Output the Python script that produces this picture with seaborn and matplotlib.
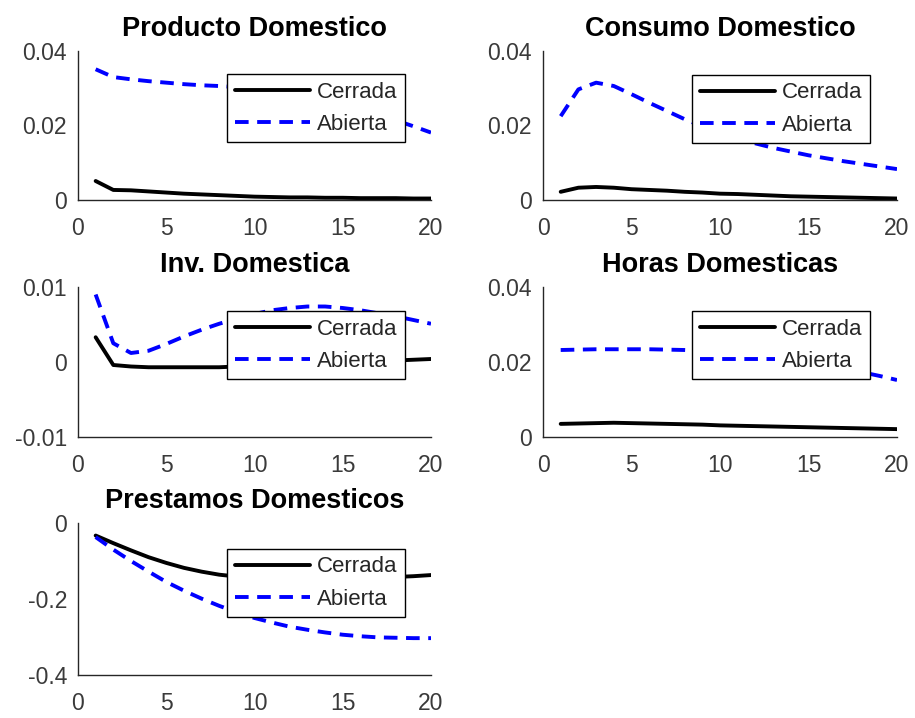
import numpy as np
import pandas as pd
import matplotlib
matplotlib.use("Agg")
import matplotlib.pyplot as plt
import seaborn as sns

periods = list(range(1, 21))
scenarios = ["Cerrada", "Abierta"]

producto_cerrada = [0.0051, 0.0027, 0.0026, 0.0023, 0.0020, 0.0017, 0.0015, 0.0013, 0.0011, 0.0009,
                    0.0008, 0.0007, 0.0007, 0.0006, 0.0006, 0.0005, 0.0005, 0.0005, 0.0004, 0.0004]
producto_abierta = [0.0351, 0.0330, 0.0324, 0.0319, 0.0315, 0.0311, 0.0308, 0.0306, 0.0303, 0.0299,
                    0.0293, 0.0285, 0.0275, 0.0264, 0.0252, 0.0240, 0.0227, 0.0214, 0.0198, 0.0181]

consumo_cerrada = [0.0022, 0.0033, 0.0035, 0.0033, 0.0029, 0.0027, 0.0025, 0.0022, 0.0020, 0.0017,
                   0.0016, 0.0014, 0.0012, 0.0010, 0.0009, 0.0008, 0.0007, 0.0006, 0.0005, 0.0004]
consumo_abierta = [0.0225, 0.0297, 0.0315, 0.0306, 0.0284, 0.0261, 0.0239, 0.0217, 0.0198, 0.0180,
                   0.0166, 0.0152, 0.0140, 0.0130, 0.0120, 0.0112, 0.0104, 0.0097, 0.0090, 0.0083]

inversion_cerrada = [0.0033, -0.0004, -0.0006, -0.0007, -0.0007, -0.0007, -0.0007, -0.0007, -0.0006, -0.0006,
                     -0.0005, -0.0004, -0.0003, -0.0002, -0.0001, 0.0000, 0.0001, 0.0002, 0.0003, 0.0004]
inversion_abierta = [0.0090, 0.0025, 0.0012, 0.0015, 0.0024, 0.0034, 0.0043, 0.0051, 0.0058, 0.0064,
                     0.0069, 0.0072, 0.0074, 0.0074, 0.0072, 0.0069, 0.0065, 0.0061, 0.0056, 0.0051]

horas_cerrada = [0.0035, 0.0036, 0.0037, 0.0038, 0.0037, 0.0036, 0.0035, 0.0034, 0.0033, 0.0031,
                 0.0030, 0.0029, 0.0028, 0.0027, 0.0026, 0.0025, 0.0024, 0.0023, 0.0022, 0.0021]
horas_abierta = [0.0232, 0.0233, 0.0234, 0.0234, 0.0234, 0.0234, 0.0233, 0.0232, 0.0230, 0.0227,
                 0.0223, 0.0218, 0.0212, 0.0205, 0.0198, 0.0190, 0.0182, 0.0173, 0.0163, 0.0152]

prestamos_cerrada = [-0.033, -0.053, -0.072, -0.090, -0.105, -0.118, -0.128, -0.136, -0.141, -0.144,
                     -0.146, -0.147, -0.147, -0.147, -0.146, -0.145, -0.144, -0.142, -0.140, -0.137]
prestamos_abierta = [-0.037, -0.070, -0.100, -0.128, -0.155, -0.178, -0.199, -0.218, -0.235, -0.250,
                     -0.262, -0.273, -0.281, -0.288, -0.294, -0.298, -0.301, -0.302, -0.303, -0.303]

titles = ["Producto Domestico", "Consumo Domestico", "Inv. Domestica",
          "Horas Domesticas", "Prestamos Domesticos"]
series = [(producto_cerrada, producto_abierta), (consumo_cerrada, consumo_abierta),
          (inversion_cerrada, inversion_abierta), (horas_cerrada, horas_abierta),
          (prestamos_cerrada, prestamos_abierta)]
y_limits = [(0, 0.04), (0, 0.04), (-0.01, 0.01), (0, 0.04), (-0.4, 0)]
y_ticks = [[0, 0.02, 0.04], [0, 0.02, 0.04], [-0.01, 0, 0.01], [0, 0.02, 0.04], [-0.4, -0.2, 0]]
y_ticklabels = [["0", "0.02", "0.04"], ["0", "0.02", "0.04"], ["-0.01", "0", "0.01"],
                ["0", "0.02", "0.04"], ["-0.4", "-0.2", "0"]]
x_ticks = [0, 5, 10, 15, 20]

sns.set_theme(style="white")
plt.rcParams["font.family"] = ["Liberation Sans", "DejaVu Sans"]

W, H = 915, 718
fig = plt.figure(figsize=(W / 100, H / 100), dpi=100)

# axes boxes in pixels: left, right, top, bottom
boxes = [(78, 431, 51, 200), (543, 897, 51, 200),
         (78, 431, 287, 437), (543, 897, 287, 437),
         (78, 431, 523, 675)]
legend_tops = [0.846, 0.84, 0.84, 0.84, 0.83]

axis_color = "#262626"
palette = {"Cerrada": "black", "Abierta": "#0000ff"}
dash_styles = {"Cerrada": "", "Abierta": (3.5, 2.2)}

for i, (title, (cerrada, abierta)) in enumerate(zip(titles, series)):
    l, r, t, b = boxes[i]
    ax = fig.add_axes([l / W, 1 - b / H, (r - l) / W, (b - t) / H])
    df = pd.DataFrame({
        "periodo": periods * 2,
        "valor": cerrada + abierta,
        "escenario": ["Cerrada"] * len(periods) + ["Abierta"] * len(periods),
    })
    sns.lineplot(data=df, x="periodo", y="valor", hue="escenario", style="escenario",
                 hue_order=scenarios, style_order=scenarios, palette=palette,
                 dashes=dash_styles, linewidth=2.8, ax=ax)
    ax.set_xlim(0, 20)
    ax.set_ylim(*y_limits[i])
    ax.set_xticks(x_ticks)
    ax.set_xticklabels([str(v) for v in x_ticks])
    ax.set_yticks(y_ticks[i])
    ax.set_yticklabels(y_ticklabels[i])
    ax.set_xlabel("")
    ax.set_ylabel("")
    ax.set_title(title, fontsize=19.5, fontweight="bold", color="black", pad=11)
    for side in ("top", "right"):
        ax.spines[side].set_visible(False)
    for side in ("left", "bottom"):
        ax.spines[side].set_color(axis_color)
        ax.spines[side].set_linewidth(1.0)
    ax.tick_params(axis="x", which="both", length=0, labelsize=16.5,
                   labelcolor="#3a3a3a", pad=12)
    ax.tick_params(axis="y", which="both", length=0, labelsize=16.5,
                   labelcolor="#3a3a3a", pad=8)
    ax.patch.set_alpha(0)
    leg = ax.legend(loc="upper left", bbox_to_anchor=(0.422, legend_tops[i]), fontsize=16,
                    frameon=True, fancybox=False, framealpha=1, edgecolor="black",
                    handlelength=3.4, handletextpad=0.3, borderpad=0.34,
                    labelspacing=0.5, borderaxespad=0)
    leg.get_frame().set_linewidth(1.0)
    for txt in leg.get_texts():
        txt.set_color("#262626")

fig.savefig("out.png", dpi=100, facecolor="white")
